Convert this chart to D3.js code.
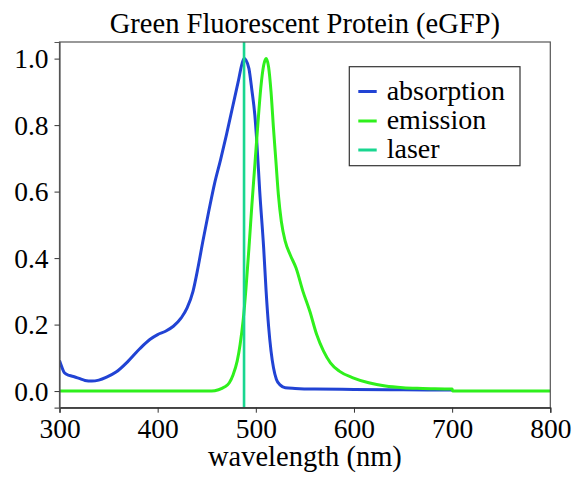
<!DOCTYPE html>
<html>
<head>
<meta charset="utf-8">
<script src="https://cdn.jsdelivr.net/npm/d3@7"></script>
</head>
<body style="margin:0">
<svg id="fig" width="576" height="477"></svg>
<script>
const title = "Green Fluorescent Protein (eGFP)";
const xLabel = "wavelength (nm)";
const xTicks = [300, 400, 500, 600, 700, 800];
const yTicks = [0.0, 0.2, 0.4, 0.6, 0.8, 1.0];
const seriesNames = ["absorption", "emission", "laser"];
const seriesColors = ["#2143d4", "#2ff01c", "#19d690"];

const absWavelength = [300,302,305,310,315,320,326,333,340,348,358,370,382,392,400,408,416,424,430,436,441,446,452,458,464,470,476,482,486,488,490,493,496,499,501,504,508,510.5,513,515.5,518,521,525,530,540,560,600,650,700];
const absValue = [0.092,0.075,0.055,0.047,0.043,0.038,0.032,0.030,0.033,0.042,0.058,0.090,0.128,0.155,0.170,0.180,0.195,0.220,0.250,0.300,0.370,0.450,0.540,0.625,0.695,0.770,0.850,0.930,0.985,1.000,0.995,0.970,0.905,0.830,0.750,0.600,0.430,0.300,0.195,0.120,0.070,0.035,0.018,0.010,0.008,0.006,0.005,0.004,0.003];

const emWavelength = [300,455,462,468,473,477,481,484,487,490,493,496,499,502,505,508,510.5,513,515.5,518,520.5,523,526,530,535,541,548,555,562,569,576,585,599,615,632,650,670,700,700.5,800];
const emValue = [0,0,0.004,0.012,0.025,0.05,0.09,0.14,0.21,0.31,0.43,0.56,0.68,0.80,0.91,0.98,1.0,0.975,0.90,0.79,0.69,0.59,0.51,0.45,0.41,0.37,0.30,0.24,0.17,0.12,0.085,0.06,0.04,0.025,0.015,0.010,0.008,0.006,0,0];

const laserWavelength = 488;

const FONT = "Liberation Serif";
const svg = d3.select("#fig");
const L = 59.5, R = 550.3, T = 42, B = 407.7;
const x = d3.scaleLinear().domain([300, 800]).range([L, R]);
const y = d3.scaleLinear().domain([-0.05, 1.05]).range([B, T]);

const line = d3.line().x(d => x(d[0])).y(d => y(d[1])).curve(d3.curveMonotoneX);
const absData = absWavelength.map((w, i) => [w, absValue[i]]);
const emData = emWavelength.map((w, i) => [w, emValue[i]]);

svg.append("defs").append("clipPath").attr("id", "clip")
  .append("rect").attr("x", L).attr("y", T).attr("width", R - L).attr("height", B - T);

const plot = svg.append("g").attr("clip-path", "url(#clip)");
plot.append("path").datum(absData).attr("d", line)
  .attr("fill", "none").attr("stroke", seriesColors[0]).attr("stroke-width", 3).attr("stroke-linejoin", "round");
plot.append("path").datum(emData).attr("d", line)
  .attr("fill", "none").attr("stroke", seriesColors[1]).attr("stroke-width", 3).attr("stroke-linejoin", "round");
plot.append("line")
  .attr("x1", x(laserWavelength)).attr("x2", x(laserWavelength))
  .attr("y1", T).attr("y2", B)
  .attr("stroke", seriesColors[2]).attr("stroke-width", 2.6);

svg.append("rect").attr("x", L).attr("y", T).attr("width", R - L).attr("height", B - T)
  .attr("fill", "none").attr("stroke", "#555").attr("stroke-width", 1.2);

const xAxis = d3.axisBottom(x).tickValues(xTicks).tickSize(5).tickPadding(6).tickFormat(d3.format("d"));
const gx = svg.append("g").attr("transform", `translate(0,${B})`).call(xAxis)
  .attr("font-family", FONT).attr("font-size", 27.5);
gx.select(".domain").attr("stroke", "#222").attr("stroke-width", 1.2);
gx.selectAll(".tick line").attr("stroke", "#333");
gx.selectAll(".tick text").attr("fill", "#000").attr("font-family", FONT);

const yAxis = d3.axisLeft(y).tickValues(yTicks).tickSize(5).tickPadding(6).tickFormat(d3.format(".1f"));
const gy = svg.append("g").attr("transform", `translate(${L},0)`).call(yAxis)
  .attr("font-family", FONT).attr("font-size", 27.5);
gy.select(".domain").attr("stroke", "#555").attr("stroke-width", 1.2);
gy.selectAll(".tick line").attr("stroke", "#333");
gy.selectAll(".tick text").attr("fill", "#000").attr("font-family", FONT).attr("dy", "0.34em");

svg.append("text").attr("x", (L + R) / 2).attr("y", 32.5).attr("text-anchor", "middle")
  .attr("font-family", FONT).attr("font-size", 28.5).attr("fill", "#000").text(title);
svg.append("text").attr("x", (L + R) / 2).attr("y", 466).attr("text-anchor", "middle")
  .attr("font-family", FONT).attr("font-size", 28.5).attr("fill", "#000").text(xLabel);

const lg = svg.append("g");
lg.append("rect").attr("x", 349.3).attr("y", 66.7).attr("width", 520 - 349.3).attr("height", 165.7 - 66.7)
  .attr("fill", "#fff").attr("stroke", "#333").attr("stroke-width", 1.2);
const rowY = [91.5, 121, 150];
seriesNames.forEach((name, i) => {
  lg.append("line").attr("x1", 358.3).attr("x2", 376.7).attr("y1", rowY[i]).attr("y2", rowY[i])
    .attr("stroke", seriesColors[i]).attr("stroke-width", 3);
  lg.append("text").attr("x", 386.7).attr("y", rowY[i] + 8)
    .attr("font-family", FONT).attr("font-size", 28).attr("fill", "#000").text(name);
});
</script>
</body>
</html>
